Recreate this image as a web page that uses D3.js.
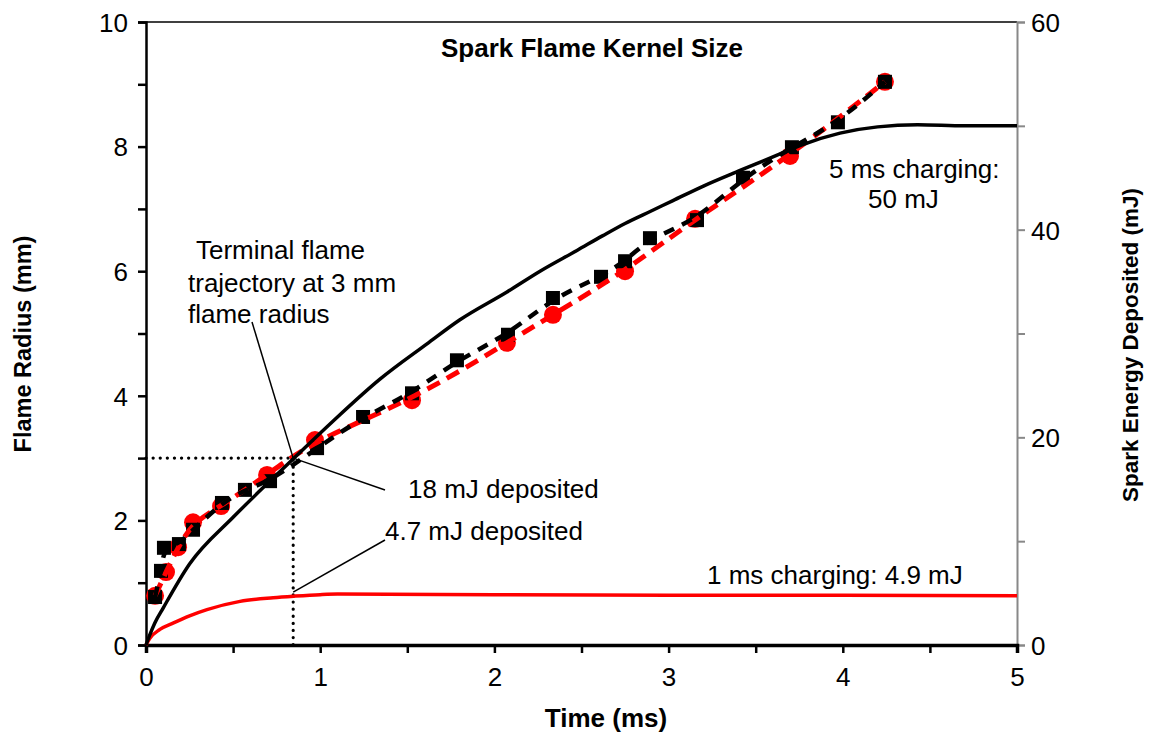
<!DOCTYPE html>
<html>
<head>
<meta charset="utf-8">
<script src="https://cdn.jsdelivr.net/npm/d3@7"></script>
<style>
  html, body { margin: 0; padding: 0; background: #fff; }
  svg text { font-family: Arial, "Liberation Sans", sans-serif; fill: #000; }
</style>
</head>
<body>
<svg id="chart" width="1153" height="736"></svg>
<script>
// Measured flame radius (mm) vs time (ms), 5 ms charging
const sqTime   = [0.052, 0.086, 0.103, 0.189, 0.270, 0.436, 0.568, 0.712, 0.982, 1.246, 1.527, 1.785, 2.078, 2.336, 2.612, 2.750, 2.893, 3.163, 3.427, 3.708, 3.972, 4.242];
const sqRadius = [0.77, 1.19, 1.56, 1.62, 1.85, 2.28, 2.49, 2.63, 3.16, 3.66, 4.04, 4.57, 4.98, 5.57, 5.91, 6.16, 6.53, 6.82, 7.50, 7.99, 8.39, 9.04];

// Measured flame radius (mm) vs time (ms), 1 ms charging
const cirTime   = [0.052, 0.115, 0.184, 0.270, 0.431, 0.695, 0.970, 1.527, 2.072, 2.336, 2.750, 3.152, 3.697, 4.242];
const cirRadius = [0.79, 1.17, 1.57, 1.97, 2.23, 2.73, 3.29, 3.93, 4.85, 5.30, 6.00, 6.84, 7.85, 9.04];

// Spark energy deposited (mJ), 5 ms charging
const e5Time   = [0, 0.02, 0.05, 0.10, 0.25, 0.50, 0.70, 0.85, 1.07, 1.343, 1.613, 1.80, 2.072, 2.262, 2.474, 2.62, 2.75, 2.90, 3.025, 3.20, 3.41, 3.64, 3.754, 3.984, 4.20, 4.43, 4.70, 5.00];
const e5Energy = [0, 0.9, 2.1, 3.6, 7.8, 12.3, 15.6, 18.0, 21.5, 25.6, 29.0, 31.3, 34.0, 36.0, 38.0, 39.4, 40.6, 41.8, 42.8, 44.2, 45.7, 47.3, 48.1, 49.3, 49.9, 50.1, 50.0, 50.0];

// Spark energy deposited (mJ), 1 ms charging
const e1Time   = [0, 0.02, 0.08, 0.155, 0.25, 0.35, 0.54, 0.73, 0.85, 1.0, 1.1, 2, 3, 4, 5];
const e1Energy = [0, 0.6, 1.5, 2.1, 2.8, 3.4, 4.2, 4.55, 4.7, 4.85, 4.9, 4.85, 4.8, 4.78, 4.75];

// Axis ticks
const xTickLabels = [0, 1, 2, 3, 4, 5];
const yTickLabels = [0, 2, 4, 6, 8, 10];
const y2TickLabels = [0, 20, 40, 60];

const margin = { left: 146, right: 1017, top: 22, bottom: 645 };
const svg = d3.select("#chart");

const x = d3.scaleLinear().domain([0, 5]).range([margin.left, margin.right]);
const y = d3.scaleLinear().domain([0, 10]).range([margin.bottom, margin.top]);
const y2 = d3.scaleLinear().domain([0, 60]).range([margin.bottom, margin.top]);

const zip = (a, b) => a.map((v, i) => [v, b[i]]);
const sqPts = zip(sqTime, sqRadius);
const cirPts = zip(cirTime, cirRadius);
const e5Pts = zip(e5Time, e5Energy);
const e1Pts = zip(e1Time, e1Energy);

// Top frame line
svg.append("line").attr("x1", margin.left).attr("x2", margin.right)
  .attr("y1", margin.top).attr("y2", margin.top)
  .attr("stroke", "#000").attr("stroke-width", 1.5);

// Right axis (gray)
const y2Axis = d3.axisRight(y2).tickValues(d3.range(0, 61, 10))
  .tickFormat(d => y2TickLabels.includes(d) ? d : "").tickSize(8).tickPadding(6);
const gR = svg.append("g").attr("transform", `translate(${margin.right},0)`).call(y2Axis);
gR.select(".domain").attr("stroke", "#888").attr("stroke-width", 2);
gR.selectAll(".tick line").attr("stroke", "#888").attr("stroke-width", 2);
gR.selectAll(".tick text").style("font-size", "26px").attr("dy", "0.36em");

// Left axis
const yAxis = d3.axisLeft(y).tickValues(d3.range(0, 11, 1))
  .tickFormat(d => yTickLabels.includes(d) ? d : "").tickSize(8).tickPadding(10);
const gL = svg.append("g").attr("transform", `translate(${margin.left},0)`).call(yAxis);
gL.select(".domain").attr("stroke", "#000").attr("stroke-width", 2.5);
gL.selectAll(".tick line").attr("stroke", "#000").attr("stroke-width", 2.5);
gL.selectAll(".tick text").style("font-size", "26px").attr("dy", "0.36em");

// Bottom axis
const xAxis = d3.axisBottom(x).tickValues(d3.range(0, 5.01, 0.5))
  .tickFormat(d => xTickLabels.includes(d) ? d : "").tickSize(8).tickPadding(12);
const gB = svg.append("g").attr("transform", `translate(0,${margin.bottom})`).call(xAxis);
gB.select(".domain").attr("stroke", "#000").attr("stroke-width", 3.5);
gB.selectAll(".tick line").attr("stroke", "#000").attr("stroke-width", 2.5);
gB.selectAll(".tick text").style("font-size", "26px").attr("dy", "0.8em");

// Dotted guide lines at 3 mm radius
const guideT = 0.845, guideR = 3;
svg.append("path")
  .attr("d", `M${x(0)},${y(guideR)} H${x(guideT)} V${y(0)}`)
  .attr("fill", "none").attr("stroke", "#000").attr("stroke-width", 3.2)
  .attr("stroke-dasharray", "0.1 7").attr("stroke-linecap", "round");

// Energy curve, 1 ms charging
const eLine = d3.line().x(d => x(d[0])).y(d => y2(d[1])).curve(d3.curveMonotoneX);
svg.append("path").datum(e1Pts).attr("d", eLine)
  .attr("fill", "none").attr("stroke", "#ff0000").attr("stroke-width", 3.5);

// Markers
svg.append("g").selectAll("circle").data(cirPts).join("circle")
  .attr("cx", d => x(d[0])).attr("cy", d => y(d[1])).attr("r", 9).attr("fill", "#ff0000");
svg.append("g").selectAll("rect").data(sqPts).join("rect")
  .attr("x", d => x(d[0]) - 7).attr("y", d => y(d[1]) - 7)
  .attr("width", 14).attr("height", 14).attr("fill", "#000");

// Smoothed dashed trend lines through the measurements
const rLine = d3.line().x(d => x(d[0])).y(d => y(d[1])).curve(d3.curveBasis);
svg.append("path").datum(cirPts).attr("d", rLine)
  .attr("fill", "none").attr("stroke", "#ff0000").attr("stroke-width", 5)
  .attr("stroke-dasharray", "14 8");
svg.append("path").datum(sqPts).attr("d", rLine)
  .attr("fill", "none").attr("stroke", "#000").attr("stroke-width", 4.5)
  .attr("stroke-dasharray", "11 9");

// Energy curve, 5 ms charging
svg.append("path").datum(e5Pts).attr("d", eLine)
  .attr("fill", "none").attr("stroke", "#000").attr("stroke-width", 3.5);

// Leader lines for annotations
const leaders = [
  [[252, 322], [x(guideT), y(guideR)]],
  [[x(guideT), y(guideR)], [385, 490]],
  [[x(guideT), y2(4.7) - 4], [385, 540]]
];
svg.append("g").selectAll("line").data(leaders).join("line")
  .attr("x1", d => d[0][0]).attr("y1", d => d[0][1])
  .attr("x2", d => d[1][0]).attr("y2", d => d[1][1])
  .attr("stroke", "#000").attr("stroke-width", 1.5);

// Text
svg.append("text").attr("x", 592).attr("y", 57).attr("text-anchor", "middle")
  .style("font-size", "26px").style("font-weight", "bold").text("Spark Flame Kernel Size");

const notes = [
  { t: "Terminal flame", x: 196, y: 259 },
  { t: "trajectory at 3 mm", x: 188, y: 292 },
  { t: "flame radius", x: 188, y: 323 },
  { t: "18 mJ deposited", x: 408, y: 498 },
  { t: "4.7 mJ deposited", x: 385, y: 540 },
  { t: "1 ms charging: 4.9 mJ", x: 707, y: 584 },
  { t: "5 ms charging:", x: 829, y: 178 },
  { t: "50 mJ", x: 868, y: 208 }
];
svg.append("g").selectAll("text").data(notes).join("text")
  .attr("x", d => d.x).attr("y", d => d.y).style("font-size", "26px").text(d => d.t);

svg.append("text").attr("x", 606).attr("y", 727).attr("text-anchor", "middle")
  .style("font-size", "26px").style("font-weight", "bold").text("Time (ms)");
svg.append("text").attr("transform", "translate(31,344) rotate(-90)").attr("text-anchor", "middle")
  .style("font-size", "23.5px").style("font-weight", "bold").text("Flame Radius (mm)");
svg.append("text").attr("transform", "translate(1138,345) rotate(-90)").attr("text-anchor", "middle")
  .style("font-size", "22.5px").style("font-weight", "bold").text("Spark Energy Deposited (mJ)");
</script>
</body>
</html>
